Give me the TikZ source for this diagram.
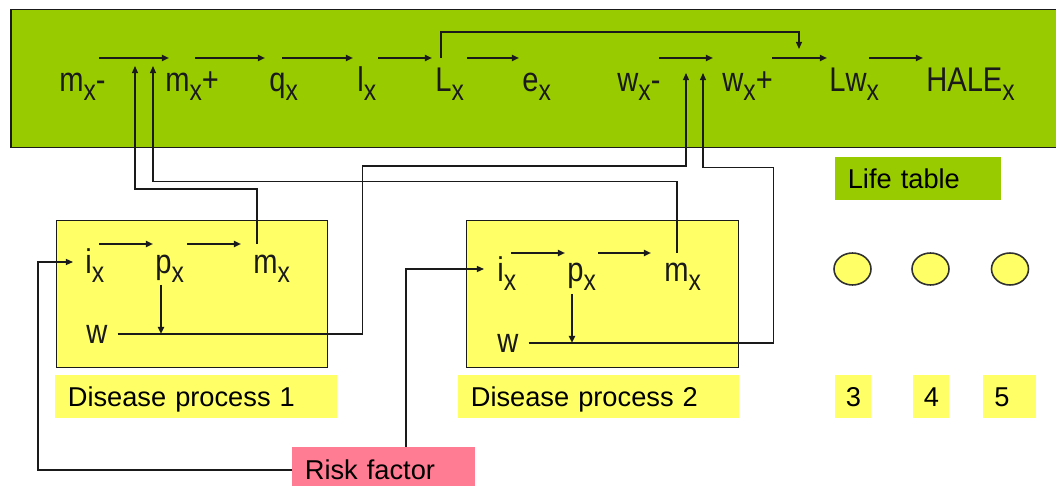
\documentclass[tikz,border=0pt]{standalone}
\usepackage{fontspec}
\setmainfont{Liberation Sans}
\newfontfamily\narrowsf[FakeStretch=0.85]{Liberation Sans}
\usepackage{tikz}
\usetikzlibrary{arrows.meta,shapes.geometric,calc}
\definecolor{lifegreen}{HTML}{99CC00}
\definecolor{pale}{HTML}{FFFF66}
\definecolor{rose}{HTML}{FF7C93}
\definecolor{ink}{HTML}{1A1A1A}
\newcommand\rowfont{\narrowsf\fontsize{19.5}{22}\selectfont}
\newcommand\tagfont{\fontsize{15.5}{18}\selectfont}
\newcommand\subx{\raisebox{-0.24em}{\scalebox{0.85}{x}}}
\tikzset{
  lbl/.style={anchor=base west, inner sep=0pt, font=\rowfont, text=ink},
  flow/.style={draw=ink, line width=1.1pt, -{Triangle[length=4pt,width=3.4pt]}},
  link/.style={draw=ink, line width=0.75pt},
  feed/.style={link, -{Triangle[length=4pt,width=3.4pt]}},
  dbox/.style={draw=ink, fill=pale, line width=0.75pt, anchor=north west, inner sep=0pt},
  tagbox/.style={anchor=north west, inner ysep=0pt, inner xsep=0.25cm, minimum height=0.86cm,
    align=left, text height=11pt, text depth=0pt, font=\tagfont},
  blob/.style={ellipse, draw=ink!90, fill=pale, line width=0.9pt, minimum width=0.74cm,
    minimum height=0.64cm, inner sep=0pt}
}

\begin{document}
\begin{tikzpicture}[x=0.02cm, y=-0.02cm]
  \useasboundingbox (0,0) rectangle (1056,486);

  % life table band and the two disease boxes
  \draw[draw=ink, fill=lifegreen, line width=0.75pt] (11,9.5) rectangle (1075,147.5);
  \node[dbox, minimum width=5.42cm, minimum height=2.94cm] (dp1) at (56,220) {};
  \node[dbox, minimum width=5.44cm, minimum height=2.94cm] (dp2) at (466,220) {};

  \node[tagbox, fill=pale, text width=5.14cm] (t1) at (55,375) {Disease process 1};
  \node[tagbox, fill=pale, text width=5.12cm] (t2) at (458,375) {Disease process 2};
  \node[tagbox, fill=lifegreen, text width=2.82cm] (life) at (835,157) {Life table};
  \node[tagbox, fill=rose, text width=3.16cm, minimum height=0.9cm] (rf) at (292,447) {Risk factor};
  \node[tagbox, fill=pale, inner xsep=0pt, minimum width=0.72cm] (n3) at (835,375) {3};
  \node[tagbox, fill=pale, inner xsep=0pt, minimum width=0.72cm] (n4) at (913,375) {4};
  \node[tagbox, fill=pale, inner xsep=0.22cm, text width=0.62cm] (n5) at (983,375) {5};

  \foreach \n/\cx in {3/852.5, 4/930.5, 5/1010}
    \node[blob] (c\n) at (\cx,269) {};

  % life table row
  \node[lbl] (mxm) at (59,92) {m\subx-};
  \node[lbl] (mxp) at (165,92) {m\subx+};
  \node[lbl] (qx) at (269,92) {q\subx};
  \node[lbl] (lx) at (357,92) {l\subx};
  \node[lbl] (Lx) at (435,92) {L\subx};
  \node[lbl] (ex) at (522,92) {e\subx};
  \node[lbl] (wxm) at (617,92) {w\subx-};
  \node[lbl] (wxp) at (722,92) {w\subx+};
  \node[lbl] (Lwx) at (829,92) {Lw\subx};
  \node[lbl] (hale) at (926,92) {HALE\subx};

  \foreach \dst/\dr/\len in {mxp/4/70, qx/-4/70, lx/-4/71, Lx/-3/54, ex/-3/52,
      wxp/-9/54, Lwx/-2/55, hale/-3/54}
    \draw[flow] ([shift={(\dr-\len,-34)}]\dst.base west) -- ++(\len,0);

  \draw[feed] ([shift={(6,-34)}]Lx.base west) -- ++(0,-26) -| ([shift={(-30,-43)}]Lwx.base west);

  % disease processes
  \node[lbl] (i1) at (85,274) {i\subx};
  \node[lbl] (p1) at (155,274) {p\subx};
  \node[lbl] (m1) at (253,274) {m\subx};
  \node[lbl] (w1) at (86,344) {w};
  \node[lbl] (i2) at (497,282) {i\subx};
  \node[lbl] (p2) at (567,282) {p\subx};
  \node[lbl] (m2) at (664,282) {m\subx};
  \node[lbl] (w2) at (497,353) {w};

  \draw[flow] ([shift={(14,-30)}]i1.base west) -- ([shift={(-2,-30)}]p1.base west);
  \draw[flow] ([shift={(32,-30)}]p1.base west) -- ([shift={(-12,-30)}]m1.base west);
  \draw[flow] ([shift={(14,-29)}]i2.base west) -- ([shift={(-2,-29)}]p2.base west);
  \draw[flow] ([shift={(31,-29)}]p2.base west) -- ([shift={(-13,-29)}]m2.base west);

  \coordinate (w1o) at ([shift={(10,-10)}]w1.base east);
  \coordinate (w2o) at ([shift={(10,-10)}]w2.base east);
  \coordinate (p1d) at ([shift={(6,11)}]p1.base west);
  \coordinate (p2d) at ([shift={(5,12)}]p2.base west);
  \coordinate (tA) at (135,66);
  \coordinate (tB) at (153,66);
  \coordinate (tC) at (686,73);
  \coordinate (tD) at (703,73);

  \draw[flow] (p1d) -- (p1d |- w1o);
  \draw[flow] (p2d) -- (p2d |- w2o);

  % feedback into the life table
  \draw[feed] ([shift={(4,-30)}]m1.base west) -- ++(0,-55) -| (tA);
  \draw[feed] ([shift={(13,-29)}]m2.base west) -- ++(0,-71.5) -| (tB);
  \draw[feed] (w1o) -| ++(245,-168) -| (tC);
  \draw[feed] (w2o) -| ++(245,-175.7) -| (tD);

  % risk factor
  \draw[feed] (rf.west) -- ++(-254,0) |- ([shift={(-12,-12)}]i1.base west);
  \draw[feed] ([shift={(114,0)}]rf.north west) |- ([shift={(-13,-13)}]i2.base west);
\end{tikzpicture}
\end{document}
